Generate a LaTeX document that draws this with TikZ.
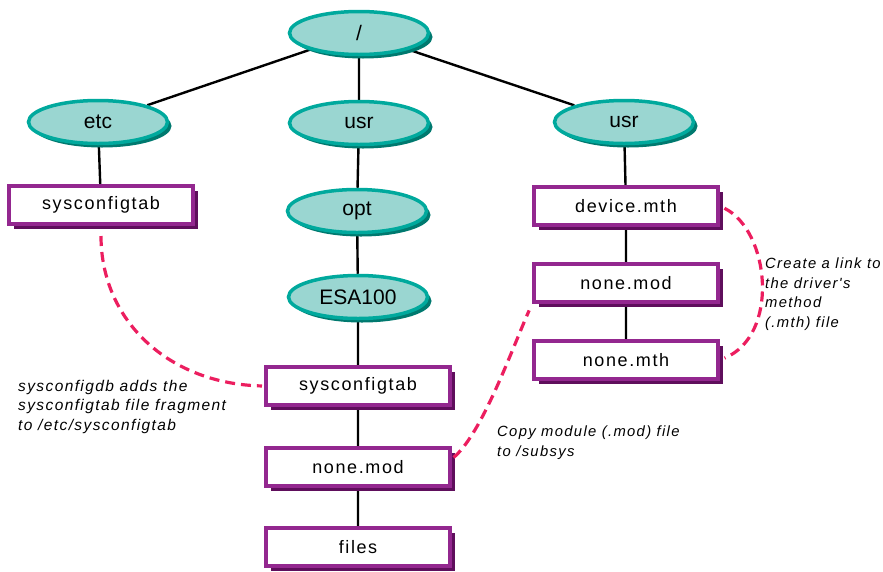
\documentclass[tikz,border=0pt]{standalone}
\usepackage{fontspec}
\setmainfont{Liberation Sans}
\newfontfamily\boxfont[LetterSpace=9]{Liberation Sans}
\newfontfamily\notefont[LetterSpace=9]{Liberation Sans}
\usetikzlibrary{shapes,shadows,backgrounds}
\definecolor{tealfill}{RGB}{154,214,209}
\definecolor{tealline}{RGB}{0,169,157}
\definecolor{tealdark}{RGB}{0,121,111}
\definecolor{purpline}{RGB}{147,39,143}
\definecolor{purpdark}{RGB}{95,14,92}
\definecolor{linkred}{RGB}{236,30,95}

\begin{document}
\begin{tikzpicture}[x=1pt,y=-1pt,
  dirnode/.style={ellipse, draw=tealline, fill=tealfill, line width=3.5pt, minimum width=139pt, minimum height=43pt, inner sep=0pt, font=\fontsize{21}{25}\selectfont, drop shadow={shadow xshift=4pt, shadow yshift=-4pt, fill=tealdark, opacity=1}},
  filebox/.style={rectangle, draw=purpline, fill=white, line width=4pt, minimum width=184pt, minimum height=38pt, font=\boxfont\fontsize{18}{22}\selectfont, drop shadow={shadow xshift=5pt, shadow yshift=-5pt, fill=purpdark, opacity=1}},
  note/.style={anchor=north west, align=left, inner sep=0pt, font=\notefont\itshape\fontsize{14.8}{19.5}\selectfont},
  link/.style={draw=linkred, line width=3.2pt, dash pattern=on 10pt off 6pt},
  treeline/.style={line width=2.4pt}]
\useasboundingbox (0,0) rectangle (883,571);
% directories
\node[dirnode] (root) at (359,33) {/};
\node[dirnode] (etc) at (98,122) {etc};
\node[dirnode] (usr) at (359,123) {usr};
\node[dirnode] (usrb) at (624,122) {usr};
\node[dirnode] (opt) at (357,211) {opt};
\node[dirnode] (esa) at (358,297) {ESA100};
% files
\node[filebox] (lsys) at (101,205) {sysconfigtab};
\node[filebox] (msys) at (358,386) {sysconfigtab};
\node[filebox] (mmod) at (358,467) {none.mod};
\node[filebox] (files) at (358,547) {files};
\node[filebox] (rdev) at (626,206) {device.mth};
\node[filebox] (rmod) at (626,283) {none.mod};
\node[filebox] (rmth) at (626,360) {none.mth};
% notes
\node[note, font=\notefont\itshape\fontsize{15.5}{19.5}\selectfont] (n1) at (18,380) {sysconfigdb adds the\\sysconfigtab file fragment\\to /etc/sysconfigtab};
\node[note] (n2) at (497,426) {Copy module (.mod) file\\to /subsys};
\node[note] (n3) at (765,258) {Create a link to\\the driver's\\method\\(.mth) file};
\begin{scope}[on background layer]
\draw[treeline] (root) -- (etc);
\draw[treeline] (root) -- (usrb);
\draw[treeline] (root) -- (usr) -- (opt) -- (esa) -- (msys) -- (mmod) -- (files);
\draw[treeline] (etc) -- (lsys);
\draw[treeline] (usrb) -- (rdev) -- (rmod) -- (rmth);
\end{scope}
% links
\draw[link, shorten <=10pt, shorten >=2pt] (lsys.south) .. controls +(0,95) and +(-95,-2) .. (msys.west);
\draw[link, shorten <=2pt, shorten >=7pt] (mmod.5) .. controls +(30,-25) and +(-20,45) .. (rmod.south west);
\draw[link, shorten <=5pt, shorten >=5pt] (rdev.east) .. controls +(50,25) and +(60,-25) .. (rmth.east);
\end{tikzpicture}
\end{document}
